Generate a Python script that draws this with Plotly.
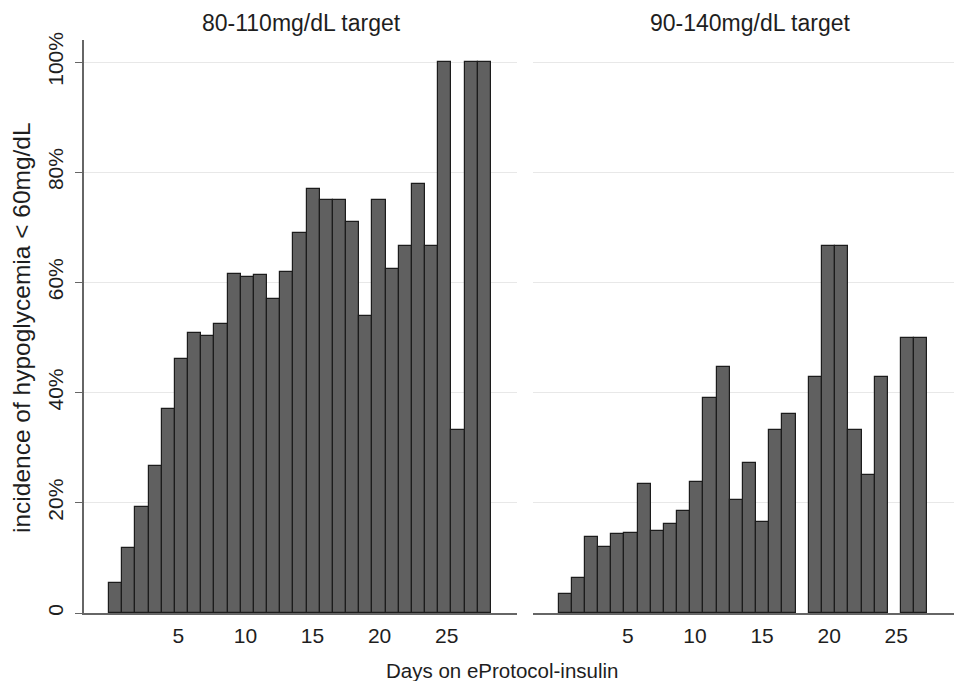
import plotly.graph_objects as go

# ---- data ----
panel_titles = ["80-110mg/dL target", "90-140mg/dL target"]
# incidence (%) per day bin, first bin = day 0
incidence_80_110 = [5.4, 11.8, 19.3, 26.7, 37.0, 46.1, 50.8, 50.3, 52.5, 61.6,
                    61.0, 61.4, 57.0, 61.9, 68.9, 77.0, 75.0, 75.0, 70.9, 53.9,
                    75.0, 62.5, 66.7, 77.8, 66.7, 100.0, 33.3, 100.0, 100.0]
incidence_90_140 = [3.5, 6.3, 13.8, 11.9, 14.3, 14.6, 23.5, 14.8, 16.1, 18.6,
                    23.8, 39.0, 44.6, 20.5, 27.2, 16.6, 33.3, 36.2, None, 42.9,
                    66.7, 66.7, 33.3, 25.0, 42.9, None, 50.0, 50.0]
x_ticks = [5, 10, 15, 20, 25]
y_ticks = [0, 20, 40, 60, 80, 100]
y_tick_labels = ["0", "20%", "40%", "60%", "80%", "100%"]
# histogram bins (days)
bin_start = -0.164
bin_width = 0.9814

W, H = 954, 681
M_T, M_B = 40, 68
PLOT_H = H - M_T - M_B


def px_x(px):
    return px / W


def px_y(py):
    return (H - M_B - py) / PLOT_H


def centers(vals):
    return [bin_start + bin_width * (i + 0.5) for i in range(len(vals))]


FONT = "Liberation Sans, Arial, sans-serif"
BAR_FILL = "#606060"
BAR_LINE = "#1c1c1c"
GRID = "#e8e8e8"
AXIS = "#666666"
TEXT = "#1e1e1e"

fig = go.Figure()
fig.add_trace(go.Bar(x=centers(incidence_80_110), y=incidence_80_110, width=bin_width,
                     marker=dict(color=BAR_FILL, line=dict(color=BAR_LINE, width=1.2)),
                     xaxis="x", yaxis="y", showlegend=False, hoverinfo="skip"))
fig.add_trace(go.Bar(x=centers(incidence_90_140), y=incidence_90_140, width=bin_width,
                     marker=dict(color=BAR_FILL, line=dict(color=BAR_LINE, width=1.2)),
                     xaxis="x2", yaxis="y2", showlegend=False, hoverinfo="skip"))

xcommon = dict(tickvals=x_ticks, ticks="", showgrid=False, zeroline=False,
               showline=True, linecolor=AXIS, linewidth=1.5, ticklabelstandoff=3,
               tickfont=dict(family=FONT, size=21, color=TEXT))
ycommon = dict(range=[0, 104], tickvals=y_ticks, showgrid=True, gridcolor=GRID,
               gridwidth=1.3, zeroline=False)

fig.update_layout(
    width=W, height=H,
    margin=dict(l=0, r=0, t=M_T, b=M_B),
    paper_bgcolor="white", plot_bgcolor="white",
    bargap=0,
    xaxis=dict(domain=[px_x(84), px_x(517)], range=[-2.03, 30.24], anchor="y", **xcommon),
    xaxis2=dict(domain=[px_x(533), 1.0], range=[-2.07, 29.30], anchor="y2", **xcommon),
    yaxis=dict(anchor="x", ticktext=y_tick_labels, tickangle=-90,
               ticks="outside", ticklen=7, tickcolor=AXIS, tickwidth=1.3,
               showline=True, linecolor=AXIS, linewidth=1.5,
               tickfont=dict(family=FONT, size=21, color=TEXT),
               ticklabelstandoff=4, **ycommon),
    yaxis2=dict(anchor="x2", showticklabels=False, ticks="", showline=False, **ycommon),
)

annos = [
    dict(text=panel_titles[0], x=px_x(301), y=px_y(23), size=23),
    dict(text=panel_titles[1], x=px_x(750), y=px_y(23), size=23),
    dict(text="Days on eProtocol-insulin", x=px_x(502), y=px_y(670), size=20.5),
]
for a in annos:
    fig.add_annotation(text=a["text"], x=a["x"], y=a["y"], xref="paper", yref="paper",
                       xanchor="center", yanchor="middle", showarrow=False,
                       font=dict(family=FONT, size=a["size"], color=TEXT))
fig.add_annotation(text="incidence of hypoglycemia < 60mg/dL", x=px_x(21), y=px_y(328),
                   xref="paper", yref="paper", xanchor="center", yanchor="middle",
                   textangle=-90, showarrow=False,
                   font=dict(family=FONT, size=24.5, color=TEXT))

fig.write_html("out.html", config={"displayModeBar": False},
               post_script="document.body.style.margin='0';document.body.style.overflow='hidden';")
